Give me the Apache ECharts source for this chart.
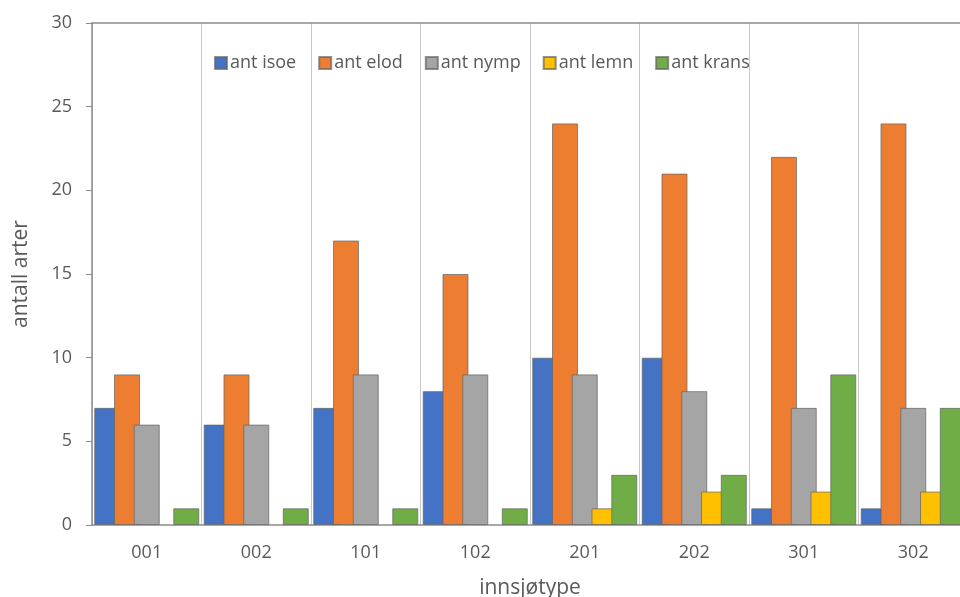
<!DOCTYPE html>
<html>
<head>
<meta charset="utf-8">
<script src="https://cdn.jsdelivr.net/npm/echarts@6/dist/echarts.min.js"></script>
<style>html,body{margin:0;padding:0;background:#fff;overflow:hidden}#c{width:960px;height:597px}</style>
</head>
<body>
<div id="c"></div>
<script>
const categories = ['001','002','101','102','201','202','301','302'];
const antIsoe  = [7, 6, 7, 8, 10, 10, 1, 1];
const antElod  = [9, 9, 17, 15, 24, 21, 22, 24];
const antNymp  = [6, 6, 9, 9, 9, 8, 7, 7];
const antLemn  = [0, 0, 0, 0, 1, 2, 2, 2];
const antKrans = [1, 1, 1, 1, 3, 3, 9, 7];
const seriesNames = ['ant isoe','ant elod','ant nymp','ant lemn','ant krans'];
const seriesData = [antIsoe, antElod, antNymp, antLemn, antKrans];
const colors = ['#4472C4','#ED7D31','#A5A5A5','#FFC000','#70AD47'];
const yTicks = [0, 5, 10, 15, 20, 25, 30];

const font = 'Open Sans, Noto Sans, sans-serif';
const chart = echarts.init(document.getElementById('c'), null, {renderer:'canvas'});
chart.setOption({
  animation: false,
  color: colors,
  textStyle: {fontFamily: font},
  legend: {
    left: 209, top: 49,
    itemWidth: 12, itemHeight: 12, itemGap: 22,
    icon: 'rect',
    textStyle: {fontSize: 18, color: '#595959', fontFamily: font, padding: [0,0,0,-2]},
    data: seriesNames
  },
  grid: {left: 92, top: 23, right: -8, bottom: 72, containLabel: false, outerBoundsMode: 'none'},
  xAxis: [{
    type: 'category',
    data: categories,
    name: 'innsjøtype',
    nameLocation: 'middle',
    nameGap: 53,
    nameTextStyle: {fontSize: 21, color: '#595959', fontFamily: font},
    axisLine: {show: true, lineStyle: {color: '#8c8c8c', width: 1.5}},
    axisTick: {show: false},
    axisLabel: {fontSize: 18, color: '#595959', margin: 19, fontFamily: font},
    splitLine: {show: true, lineStyle: {color: '#c8c8c8', width: 1}}
  }, {
    type: 'category',
    position: 'top',
    data: categories,
    axisLine: {show: true, lineStyle: {color: '#8c8c8c', width: 1.5}},
    axisTick: {show: false},
    axisLabel: {show: false},
    splitLine: {show: false}
  }],
  yAxis: {
    type: 'value',
    min: yTicks[0], max: yTicks[yTicks.length-1], interval: 5,
    name: 'antall arter',
    nameLocation: 'middle',
    nameGap: 60,
    nameTextStyle: {fontSize: 21, color: '#595959', fontFamily: font},
    axisLine: {show: true, lineStyle: {color: '#8c8c8c', width: 1.5}},
    axisTick: {show: true, length: 6, lineStyle: {color: '#8c8c8c'}},
    axisLabel: {fontSize: 18, color: '#595959', margin: 20, fontFamily: font},
    splitLine: {show: false}
  },
  series: seriesNames.map((n, i) => ({
    name: n,
    type: 'bar',
    data: seriesData[i].map(v => v === 0 ? null : v),
    barWidth: 26,
    barGap: '-24%',
    itemStyle: {color: colors[i], borderColor: 'rgba(100,100,100,0.7)', borderWidth: 1}
  }))
});
</script>
</body>
</html>
